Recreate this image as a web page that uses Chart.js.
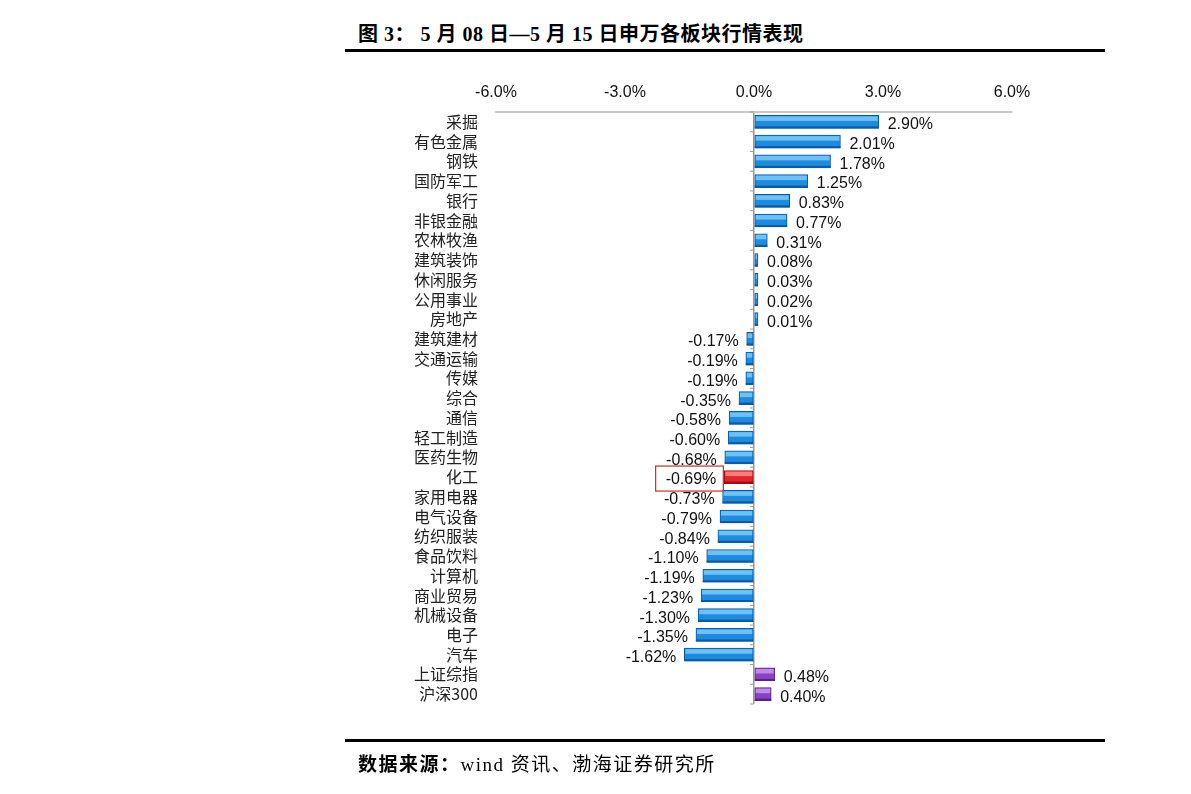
<!DOCTYPE html>
<html>
<head>
<meta charset="utf-8">
<script src="https://cdn.jsdelivr.net/npm/chart.js@4"></script>
<style>
  body { margin: 0; background: #fff; width: 1191px; height: 794px; position: relative; overflow: hidden; }
  #title { position: absolute; left: 358px; top: 18px; font: bold 20px "Liberation Serif", "Noto Sans CJK SC", serif; letter-spacing: 0.5px; color: #000; white-space: nowrap; }
  #title .cn { font-family: "Noto Sans CJK SC", sans-serif; }
  .rule { position: absolute; left: 345px; width: 760px; height: 3px; background: #000; }
  #source { position: absolute; left: 358px; top: 749px; font: 19px "Liberation Serif", "Noto Sans CJK SC", serif; letter-spacing: 1.5px; color: #000; white-space: nowrap; }
  #source b { font-family: "Noto Sans CJK SC", sans-serif; }
  #wrap { position: absolute; left: 0; top: 0; width: 1191px; height: 794px; }
</style>
</head>
<body>
<div id="title"><span class="cn">图</span> 3<span class="cn">：</span> 5 <span class="cn">月</span> 08 <span class="cn">日</span>—5 <span class="cn">月</span> 15 <span class="cn">日申万各板块行情表现</span></div>
<div class="rule" style="top:49px"></div>
<div id="wrap"><canvas id="c"></canvas></div>
<div class="rule" style="top:739px"></div>
<div id="source"><b>数据来源：</b>wind 资讯、渤海证券研究所</div>
<script>
//- data -
var sectors = ['采掘', '有色金属', '钢铁', '国防军工', '银行', '非银金融', '农林牧渔', '建筑装饰', '休闲服务', '公用事业',
  '房地产', '建筑建材', '交通运输', '传媒', '综合', '通信', '轻工制造', '医药生物', '化工', '家用电器',
  '电气设备', '纺织服装', '食品饮料', '计算机', '商业贸易', '机械设备', '电子', '汽车', '上证综指', '沪深300'];
var changes = [2.90, 2.01, 1.78, 1.25, 0.83, 0.77, 0.31, 0.08, 0.03, 0.02,
  0.01, -0.17, -0.19, -0.19, -0.35, -0.58, -0.60, -0.68, -0.69, -0.73,
  -0.79, -0.84, -1.10, -1.19, -1.23, -1.30, -1.35, -1.62, 0.48, 0.40];
var xTicks = [-6, -3, 0, 3, 6];
var highlight = '化工';
var indexNames = ['上证综指', '沪深300'];

function barColor(name) {
  if (name === highlight) return ['#e3262b', '#ff7a7a', '#9c1015'];
  if (indexNames.indexOf(name) >= 0) return ['#8a42c4', '#c08ae8', '#5a2188'];
  return ['#1d8ce0', '#6cc2f7', '#0c5aa3'];
}

// value labels, bar shine, zero-axis ticks and the red box
var barExtras = {
  id: 'barExtras',
  afterDatasetsDraw: function(chart) {
    var ctx = chart.ctx;
    var meta = chart.getDatasetMeta(0);
    var x0 = chart.scales.x.getPixelForValue(0);
    var ys = chart.scales.y;
    ctx.save();
    // little tick marks on the zero axis between rows
    ctx.strokeStyle = '#9a9a9a';
    ctx.lineWidth = 1;
    for (var k = 0; k <= sectors.length; k++) {
      var yy = ys.top + (ys.bottom - ys.top) * k / sectors.length;
      ctx.beginPath();
      ctx.moveTo(x0 - 4, yy);
      ctx.lineTo(x0, yy);
      ctx.stroke();
    }
    meta.data.forEach(function(bar, i) {
      var name = sectors[i];
      var c = barColor(name);
      var left = Math.min(bar.x, bar.base), right = Math.max(bar.x, bar.base);
      var top = bar.y - bar.height / 2;
      ctx.fillStyle = c[1];
      ctx.fillRect(left + 1, top + 1, right - left - 2, bar.height * 0.35);
      ctx.fillStyle = c[2];
      ctx.fillRect(left, top + bar.height - 2, right - left, 2);

      var v = changes[i];
      var txt = v.toFixed(2) + '%';
      ctx.font = '16px "Liberation Sans", Arial, sans-serif';
      ctx.fillStyle = '#111';
      ctx.textBaseline = 'middle';
      var ty = bar.y + 3;
      if (v >= 0) {
        ctx.textAlign = 'left';
        ctx.fillText(txt, right + 9, ty);
      } else {
        ctx.textAlign = 'right';
        ctx.fillText(txt, left - 8, ty);
        if (name === highlight) {
          var w = ctx.measureText(txt).width;
          ctx.strokeStyle = '#d22a2a';
          ctx.lineWidth = 1.2;
          ctx.strokeRect(left - 8 - w - 10, bar.y - 11, w + 17, 25);
        }
      }
    });
    ctx.restore();
  }
};

var ctx = document.getElementById('c').getContext('2d');
new Chart(ctx, {
  type: 'bar',
  data: {
    labels: sectors,
    datasets: [{
      data: changes,
      backgroundColor: sectors.map(function(s) { return barColor(s)[0]; }),
      borderColor: sectors.map(function(s) { return barColor(s)[2]; }),
      borderWidth: 1,
      borderSkipped: false,
      barThickness: 13,
      minBarLength: 4
    }]
  },
  options: {
    indexAxis: 'y',
    responsive: true,
    maintainAspectRatio: false,
    animation: false,
    layout: { padding: { left: 330, right: 179, top: 78, bottom: 90 } },
    plugins: { legend: { display: false }, tooltip: { enabled: false } },
    scales: {
      x: {
        position: 'top',
        min: -6,
        max: 6,
        afterBuildTicks: function(axis) { axis.ticks = xTicks.map(function(v) { return { value: v }; }); },
        afterFit: function(axis) { axis.height = 34; },
        ticks: {
          callback: function(v) { return v.toFixed(1) + '%'; },
          font: { family: '"Liberation Sans", Arial, sans-serif', size: 16 },
          color: '#111',
          padding: 10
        },
        border: { display: true, color: '#c8c8c8', width: 2 },
        grid: {
          drawOnChartArea: true,
          tickLength: 0,
          color: function(c) { return c.tick && c.tick.value === 0 ? '#9a9a9a' : 'rgba(0,0,0,0)'; },
          lineWidth: 1.5
        }
      },
      y: {
        afterFit: function(axis) { axis.width = 166; },
        ticks: {
          font: { family: '"Noto Sans CJK SC", sans-serif', size: 16 },
          color: '#222',
          padding: 10,
          autoSkip: false
        },
        border: { display: false },
        grid: { display: false }
      }
    }
  },
  plugins: [barExtras]
});
</script>
</body>
</html>
